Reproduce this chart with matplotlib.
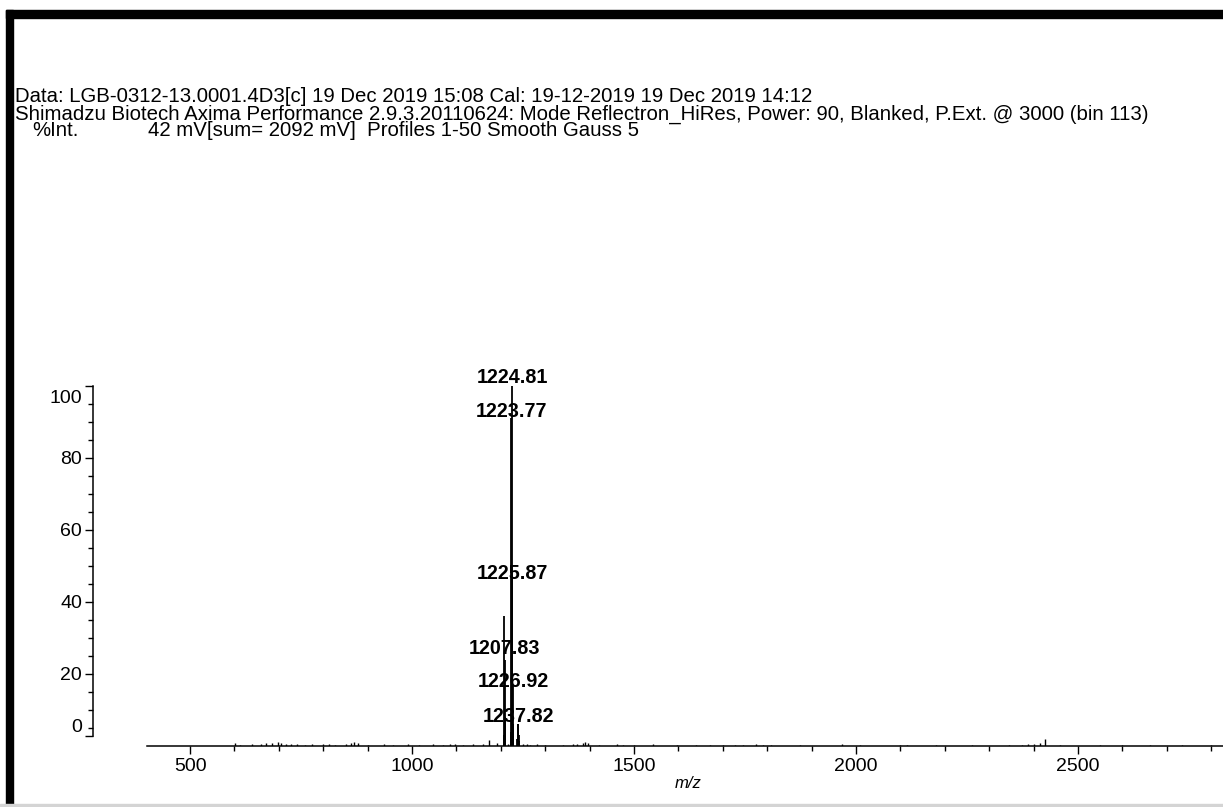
import matplotlib.pyplot as plt
from matplotlib.patches import Rectangle

plt.rcParams["font.family"] = ["Liberation Sans", "DejaVu Sans"]

W, H = 1223, 807
PX = 0.72  # points per pixel at 100 dpi

# main isotope clusters (m/z, %Int)
peak_mz = [1206.8, 1207.83, 1208.83, 1209.8, 1222.8, 1223.77, 1224.81, 1225.87,
           1226.92, 1227.9, 1236.8, 1237.82, 1238.8, 1239.8, 1240.8]
peak_int = [3, 36, 24, 8, 4, 91, 100, 48, 17, 6, 2, 6, 6, 3, 1.5]

# small background peaks
noise_mz = [601, 612, 640, 660, 672, 685, 698, 705, 716, 728, 741, 760, 775, 800,
            812, 826, 851, 862, 870, 878, 900, 936, 958, 990, 1015, 1047, 1070,
            1085, 1097, 1115, 1138, 1160, 1173, 1192, 1215, 1250, 1258, 1266,
            1282, 1300, 1340, 1362, 1371, 1385, 1390, 1396, 1420, 1461, 1475,
            1500, 1543, 1597, 1640, 1670, 1700, 1727, 1745, 1775, 1790, 1808,
            1874, 1968, 2010, 2099, 2114, 2180, 2261, 2345, 2374, 2387, 2401,
            2414, 2426, 2460, 2550, 2600, 2662, 2734, 2800]
noise_int = [0.8, 0.4, 0.5, 0.6, 0.7, 0.8, 1.0, 0.7, 0.6, 0.5, 0.6, 0.4, 0.5, 0.6,
             0.5, 0.4, 0.6, 0.8, 1.0, 0.7, 0.4, 0.5, 0.4, 0.5, 0.4, 0.5, 0.4,
             0.6, 0.5, 0.4, 0.5, 0.6, 1.6, 0.8, 0.6, 0.6, 0.5, 0.4,
             0.5, 0.4, 0.4, 0.6, 0.5, 0.9, 1.0, 0.8, 0.4, 0.5, 0.4,
             0.4, 0.5, 0.4, 0.3, 0.4, 0.3, 0.4, 0.4, 0.6, 0.4, 0.4,
             0.4, 0.5, 0.3, 0.4, 0.3, 0.3, 0.4, 0.3, 0.4, 0.5, 0.6,
             0.8, 2.0, 0.3, 0.4, 0.3, 0.4, 0.4, 0.3]

labels = ["1224.81", "1223.77", "1225.87", "1207.83", "1226.92", "1237.82"]
label_y = [102.5, 93, 48, 27.2, 17.8, 8.3]

header = [
    "Data: LGB-0312-13.0001.4D3[c] 19 Dec 2019 15:08 Cal: 19-12-2019 19 Dec 2019 14:12",
    "Shimadzu Biotech Axima Performance 2.9.3.20110624: Mode Reflectron_HiRes, Power: 90, Blanked, P.Ext. @ 3000 (bin 113)",
]
int_label = "%Int."
int_info = "42 mV[sum= 2092 mV]  Profiles 1-50 Smooth Gauss 5"

fig = plt.figure(figsize=(W / 100, H / 100), dpi=100)
ax = fig.add_axes([147 / W, 61 / H, 1076 / W, 360 / H])

ax.vlines(noise_mz, 0, noise_int, color="black", lw=1)
ax.vlines(peak_mz, 0, peak_int, color="black", lw=1.3)

for lab, y in zip(labels, label_y):
    ax.text(float(lab) + 1, y, lab, ha="center", va="center", fontsize=14.2,
            fontweight="bold")

ax.set_xlim(403, 2826.6)
ax.set_ylim(0, 100)

for s in ["top", "right"]:
    ax.spines[s].set_visible(False)
ax.spines["left"].set_position(("outward", 54 * PX))
ax.spines["left"].set_bounds(2.8, 100)
ax.spines["left"].set_linewidth(1.1)
ax.spines["bottom"].set_linewidth(1.1)

ax.set_xticks([500, 1000, 1500, 2000, 2500])
ax.set_xticks(range(500, 2900, 100), minor=True)
ax.set_yticks([2.8, 20, 40, 60, 80, 100])
ax.set_yticklabels(["", "20", "40", "60", "80", ""])
ax.set_yticks([v for v in range(5, 100, 5) if v % 20], minor=True)
ax.tick_params(axis="both", which="major", length=8 * PX, width=1, labelsize=14)
ax.tick_params(axis="both", which="minor", length=5 * PX, width=1)
ax.tick_params(axis="x", pad=4 * PX)
ax.tick_params(axis="y", pad=3 * PX)

# end labels of the intensity axis sit inside the bracket
ytr = ax.get_yaxis_transform()
ax.annotate("100", xy=(0, 100), xycoords=ytr, xytext=(-65, -12),
            textcoords="offset pixels", ha="right", va="center", fontsize=14)
ax.annotate("0", xy=(0, 0), xycoords=ytr, xytext=(-65, 19),
            textcoords="offset pixels", ha="right", va="center", fontsize=14)

fig.text(688 / W, 1 - 783 / H, "m/z", style="italic", ha="center", va="center",
         fontsize=12)

# header block
hs = 14.7
fig.text(15 / W, 1 - 97 / H, header[0], ha="left", va="center", fontsize=hs)
fig.text(15 / W, 1 - 114 / H, header[1], ha="left", va="center", fontsize=hs)
fig.text(32 / W, 1 - 131 / H, int_label, ha="left", va="center", fontsize=hs)
fig.text(148 / W, 1 - 131 / H, int_info, ha="left", va="center", fontsize=hs)

# window frame
fig.add_artist(Rectangle((6 / W, 1 - 18 / H), 1, 8 / H,
                         transform=fig.transFigure, color="black"))
fig.add_artist(Rectangle((6 / W, 0), 7 / W, 1 - 10 / H,
                         transform=fig.transFigure, color="black"))
fig.add_artist(Rectangle((0, 1 / H), 1, 2 / H,
                         transform=fig.transFigure, color="#d4d4d4"))

fig.savefig("out.png", dpi=100)
